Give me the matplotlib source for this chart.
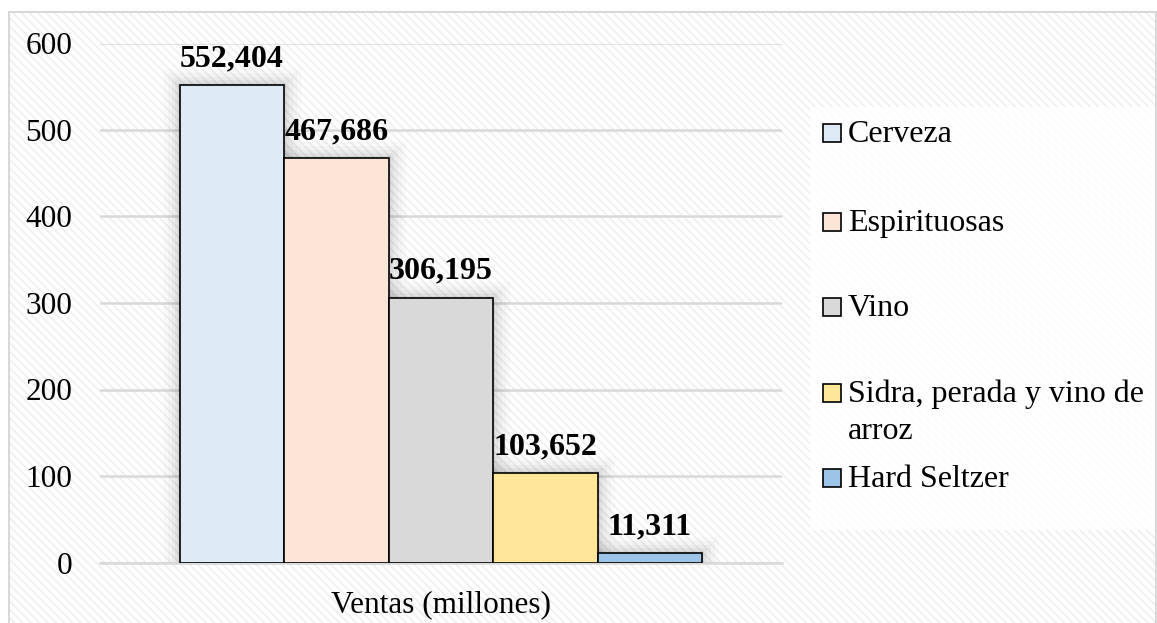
import matplotlib
matplotlib.use("Agg")
import matplotlib.pyplot as plt
from matplotlib.patches import Rectangle
import numpy as np

categories = ["Cerveza", "Espirituosas", "Vino", "Sidra, perada y vino de\narroz", "Hard Seltzer"]
values = [552.404, 467.686, 306.195, 103.652, 11.311]
colors = ["#DEEBF7", "#FBE5D6", "#D9D9D9", "#FFE699", "#9DC3E6"]
yticks = [0, 100, 200, 300, 400, 500, 600]
xlabel = "Ventas (millones)"

W, H = 1157, 623
plt.rcParams['font.family'] = ['Liberation Serif', 'DejaVu Serif']
plt.rcParams['hatch.linewidth'] = 1.2

fig = plt.figure(figsize=(W / 100, H / 100), dpi=100)
fig.patch.set_facecolor('white')

# hatched background
bg = Rectangle((9 / W, 0), (W - 9) / W, (H - 12) / H, transform=fig.transFigure,
               facecolor='white', edgecolor='#efefef', hatch='\\\\\\\\', lw=0, zorder=-10)
fig.patches.append(bg)
border = Rectangle((9 / W, -0.01), (W - 10) / W, (H - 12) / H + 0.01, transform=fig.transFigure,
                   facecolor='none', edgecolor='#d9d9d9', lw=1.5, zorder=-9)
fig.patches.append(border)

ax = fig.add_axes([100 / W, 1 - 562.5 / H, 682 / W, (562.5 - 43.5) / H])
ax.set_facecolor('none')

n = len(values)
bw = 104.5 / 682
x = (np.arange(n) - (n - 1) / 2) * bw

# soft shadow/glow
for lw_, a in [(24, 0.02), (18, 0.025), (12, 0.03), (7, 0.04), (3, 0.05)]:
    ax.bar(x, values, width=bw, color='none', edgecolor=(0, 0, 0, a), linewidth=lw_, zorder=1)
bars = ax.bar(x, values, width=bw, color=colors, edgecolor='black', linewidth=1.2, zorder=3)

for xi, v in zip(x, values):
    ax.annotate(f"{v:,.3f}".replace('.', ','), (xi, v), xytext=(0, 13.5), textcoords='offset points',
                ha='center', va='baseline', fontsize=23, fontweight='bold', zorder=2)

ax.set_xlim(-0.5, 0.5)
ax.set_ylim(0, 600)
ax.set_yticks(yticks)
ax.set_yticklabels([str(t) for t in yticks], fontsize=22.5)
ax.set_xticks([0])
ax.set_xticklabels([xlabel], fontsize=22.5)
ax.tick_params(axis='y', length=0, pad=20)
ax.tick_params(axis='x', length=0, pad=20)
ax.yaxis.grid(True, color='#d9d9d9', lw=1.8, zorder=0)
ax.set_axisbelow(True)
for s in ['top', 'right', 'left']:
    ax.spines[s].set_visible(False)
ax.spines['bottom'].set_color('#d9d9d9')
ax.spines['bottom'].set_linewidth(1.8)

# legend panel
leg_bg = Rectangle((810 / W, 1 - 530 / H), (1155 - 810) / W, (530 - 107) / H, transform=fig.transFigure,
                   facecolor='white', edgecolor='none', alpha=0.85, zorder=-5)
fig.patches.append(leg_bg)
ys = [133, 222, 307, 393, 478]
for cat, col, yc in zip(categories, colors, ys):
    fig.patches.append(Rectangle((823 / W, 1 - (yc + 9) / H), 18 / W, 18 / H, transform=fig.transFigure,
                                 facecolor=col, edgecolor='black', lw=1.2))
    for i, line in enumerate(cat.split('\n')):
        fig.text(848 / W, 1 - (yc + 9 + i * 37) / H, line, fontsize=23, ha='left', va='baseline')

fig.savefig("out.png", dpi=100)
